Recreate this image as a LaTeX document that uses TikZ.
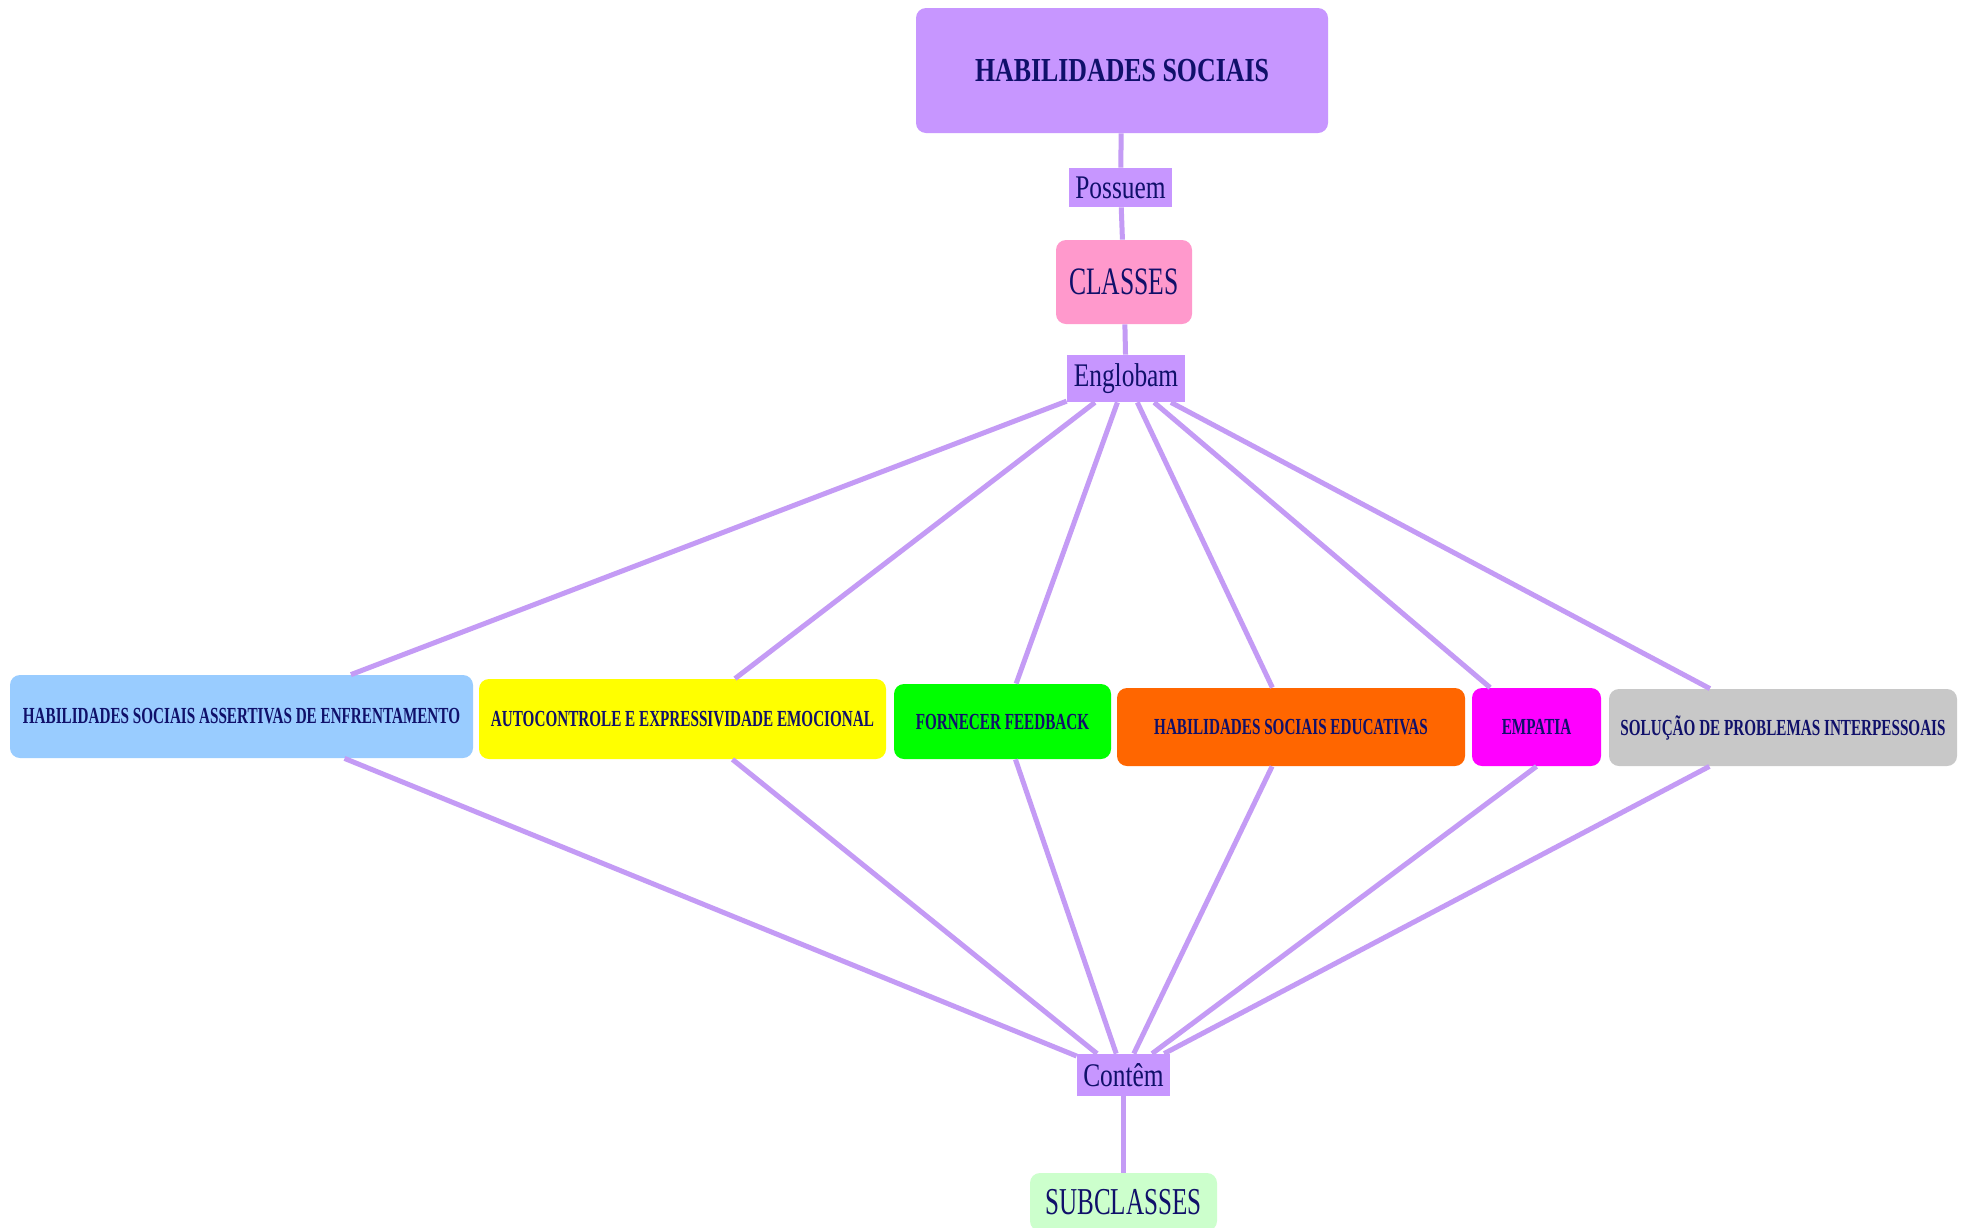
\documentclass[tikz,border=0pt]{standalone}
\usepackage{fontspec}
\setmainfont{Liberation Serif}[FakeStretch=0.77]
\newfontfamily\narrowf{Liberation Serif}[FakeStretch=0.66]
\definecolor{boxc}{RGB}{199,150,255}
\definecolor{linec}{RGB}{196,155,245}
\definecolor{txt}{RGB}{16,16,106}
\definecolor{cblue}{RGB}{153,204,255}
\definecolor{cyellow}{RGB}{255,255,0}
\definecolor{cgreen}{RGB}{0,255,0}
\definecolor{corange}{RGB}{255,102,0}
\definecolor{cmagenta}{RGB}{255,0,255}
\definecolor{cgray}{RGB}{200,200,200}
\definecolor{cpink}{RGB}{255,153,204}
\definecolor{cmint}{RGB}{204,255,204}
\tikzset{
  conn/.style={line width=2.5pt, draw=linec},
  concept/.style={rounded corners=5pt, inner sep=0pt, text=txt, align=center},
  linker/.style={fill=boxc, inner sep=0pt, text=txt, font=\fontsize{16.5}{18}\selectfont},
  rowbox/.style={concept, font=\narrowf\bfseries\fontsize{11.5}{13}\selectfont},
}
\begin{document}
\begin{tikzpicture}[x=0.5pt,y=-0.5pt]
\clip (0,0) rectangle (1968,1227);
\fill[white] (0,0) rectangle (1968,1227);
% top part
\node[concept, fill=boxc, minimum width=206pt, minimum height=62.5pt,
      font=\bfseries\fontsize{16.8}{19}\selectfont] (title) at (1122,70.5) {HABILIDADES SOCIAIS};
\node[linker, minimum width=51.5pt, minimum height=19.5pt] (possuem) at (1120.5,187.5) {Possuem};
\node[concept, fill=cpink, minimum width=68pt, minimum height=42pt,
      font=\narrowf\fontsize{19.4}{22}\selectfont] (classes) at (1124,282) {CLASSES};
\node[linker, minimum width=59pt, minimum height=23.5pt] (englobam) at (1126,378.5) {Englobam};
% row of classes
\node[rowbox, fill=cblue, minimum width=231.5pt, minimum height=41.5pt] (assert) at (241.5,716.5) {HABILIDADES SOCIAIS ASSERTIVAS DE ENFRENTAMENTO};
\node[rowbox, fill=cyellow, minimum width=203.5pt, minimum height=40pt] (auto) at (682.5,719) {AUTOCONTROLE E EXPRESSIVIDADE EMOCIONAL};
\node[rowbox, fill=cgreen, minimum width=108.5pt, minimum height=37.5pt] (feed) at (1002.5,721.5) {FORNECER FEEDBACK};
\node[rowbox, fill=corange, minimum width=174pt, minimum height=39pt] (educ) at (1291,727) {HABILIDADES SOCIAIS EDUCATIVAS};
\node[rowbox, fill=cmagenta, minimum width=64.5pt, minimum height=39pt] (emp) at (1536.5,727) {EMPATIA};
\node[rowbox, fill=cgray, minimum width=174pt, minimum height=38.5pt] (solu) at (1783,727.5) {SOLUÇÃO DE PROBLEMAS INTERPESSOAIS};
% bottom part
\node[linker, minimum width=46.5pt, minimum height=21pt] (contem) at (1123.5,1075) {Contêm};
\node[concept, fill=cmint, minimum width=93.5pt, minimum height=29pt,
      font=\narrowf\fontsize{19}{22}\selectfont] (sub) at (1123.5,1202) {SUBCLASSES};
% connectors
\draw[conn] (title) -- (possuem);
\draw[conn] (possuem) -- (classes);
\draw[conn] (classes) -- (englobam);
\foreach \n in {assert,auto,feed,educ,emp,solu}{
  \draw[conn] (englobam) -- (\n);
}
\foreach \n in {assert,auto,feed,educ,solu}{
  \draw[conn] (\n) -- (contem);
}
\draw[conn] (emp.south) -- (contem);
\draw[conn] (contem) -- (sub);
\end{tikzpicture}
\end{document}
